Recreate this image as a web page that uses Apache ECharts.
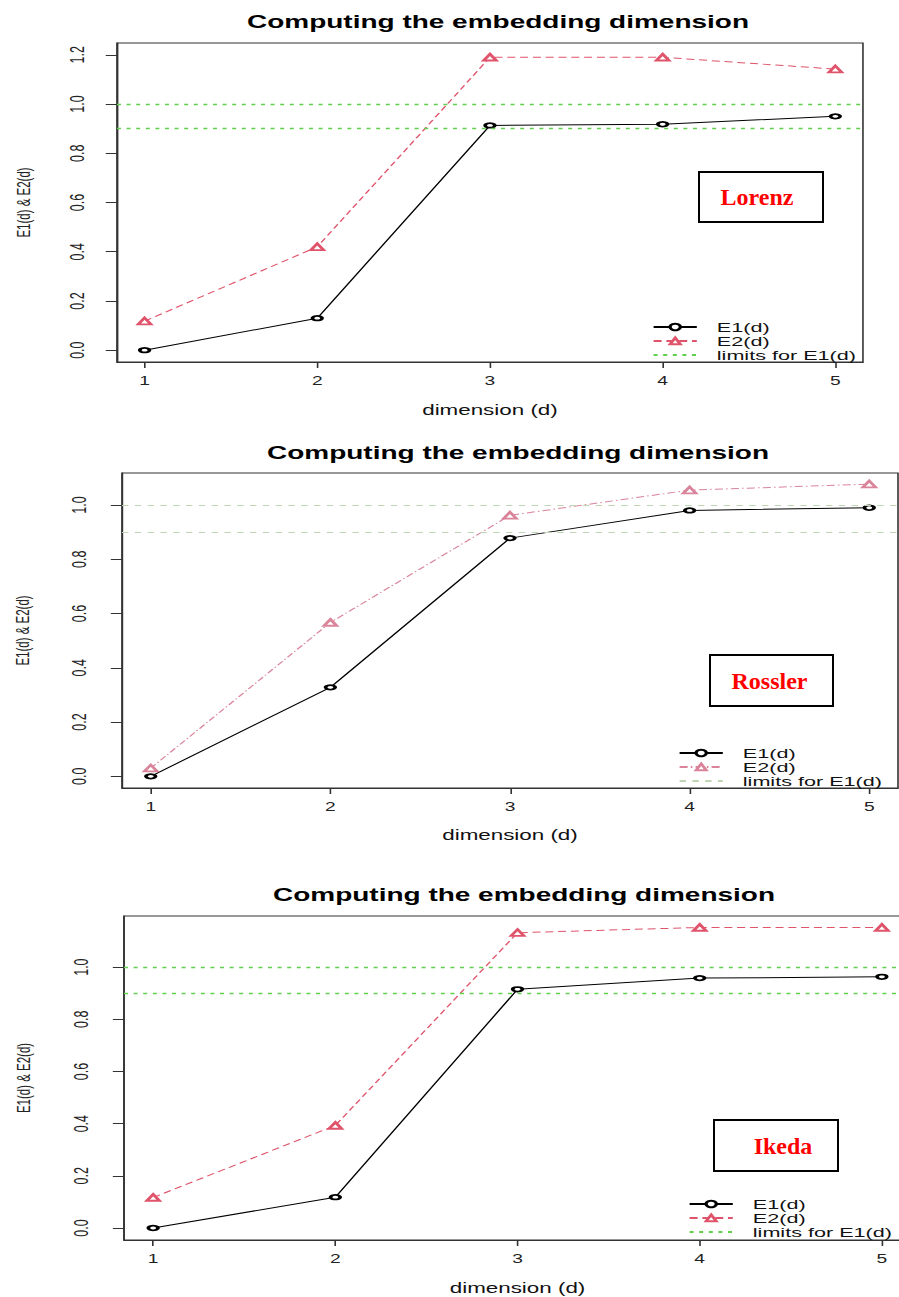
<!DOCTYPE html>
<html>
<head>
<meta charset="utf-8">
<script src="https://cdn.jsdelivr.net/npm/echarts@6/dist/echarts.min.js"></script>
<style>
body{margin:0;background:#fff;}
/* the source figure is stretched sideways, so each panel is drawn narrow and widened */
.panel{position:absolute;left:0;width:561.875px;transform:scaleX(1.6);transform-origin:0 0;}
</style>
</head>
<body>
<div id="lorenz" class="panel" style="top:0;height:430px"></div>
<div id="rossler" class="panel" style="top:430px;height:440px"></div>
<div id="ikeda" class="panel" style="top:870px;height:427px"></div>
<script>
var dims = [1, 2, 3, 4, 5];
var lorenzE1 = [0.0, 0.13, 0.913, 0.918, 0.95];
var lorenzE2 = [0.118, 0.42, 1.19, 1.19, 1.142];
var rosslerE1 = [0.0, 0.328, 0.878, 0.98, 0.99];
var rosslerE2 = [0.03, 0.567, 0.962, 1.055, 1.077];
var ikedaE1 = [0.0, 0.118, 0.915, 0.958, 0.963];
var ikedaE2 = [0.117, 0.393, 1.132, 1.152, 1.152];
var limits = [0.9, 1.0];
var yTicksLorenz = [0, 0.2, 0.4, 0.6, 0.8, 1.0, 1.2];
var yTicksOther = [0, 0.2, 0.4, 0.6, 0.8, 1.0];

var STRETCH = 1.6;

function pairs(xs, ys) {
	var out = [];
	for (var i = 0; i < xs.length; i++) {
		out.push([xs[i], ys[i]]);
	}
	return out;
}

function makePanel(id, p) {
	var font = 'Liberation Sans';
	var option = {
		animation: false,
		backgroundColor: '#fff',
		title: {
			text: 'Computing the embedding dimension',
			left: p.titleX, top: p.titleTop, textAlign: 'center',
			textStyle: {fontFamily: font, fontWeight: 'bold', fontSize: 17.5, color: '#000'}
		},
		grid: {
			left: p.grid[0], top: p.grid[1], width: p.grid[2], height: p.grid[3],
			show: true, borderColor: '#333', borderWidth: 1,
			containLabel: false, outerBoundsMode: 'none'
		},
		legend: {
			orient: 'vertical', left: p.legend[0], top: p.legend[1],
			itemWidth: 27, itemHeight: 8, itemGap: 0,
			formatter: function(n) { return '  ' + n; },
			textStyle: {fontFamily: font, fontSize: 13.5, lineHeight: 13.5, color: '#111'},
			data: [
				{name: 'E1(d)'},
				{name: 'E2(d)'},
				{name: 'limits for E1(d)', itemStyle: {opacity: 0}}
			]
		},
		xAxis: {
			type: 'value', min: 0.84, max: 5.16,
			name: 'dimension (d)', nameLocation: 'middle', nameGap: p.xNameGap,
			nameTextStyle: {fontFamily: font, fontSize: 14, color: '#111'},
			axisLine: {show: true, onZero: false, lineStyle: {color: '#333', width: 1}},
			splitLine: {show: false},
			axisTick: {show: true, inside: false, customValues: dims, length: 6, lineStyle: {color: '#333'}},
			axisLabel: {customValues: dims, margin: 13, fontFamily: font, fontSize: 12, color: '#222'}
		},
		yAxis: {
			type: 'value', min: p.yMin, max: p.yMax,
			name: 'E1(d) & E2(d)', nameLocation: 'middle', nameGap: p.yNameGap, nameRotate: 90,
			nameTextStyle: {fontFamily: font, fontSize: 11.5, color: '#222'},
			axisLine: {show: true, onZero: false, lineStyle: {color: '#333', width: 1}},
			splitLine: {show: false},
			axisTick: {show: true, inside: false, customValues: p.yTicks, length: 7, lineStyle: {color: '#333'}},
			axisLabel: {
				customValues: p.yTicks, rotate: 90, margin: p.yLabelMargin,
				fontFamily: font, fontSize: 12.5, color: '#222',
				formatter: function(v) { return v.toFixed(1); }
			}
		},
		series: [{
			name: 'E1(d)', type: 'line',
			data: pairs(dims, p.e1),
			symbol: 'emptyCircle', symbolSize: [6, 4.5],
			lineStyle: {color: '#000', width: 1},
			itemStyle: {color: '#000', borderWidth: 0.7}
		}, {
			name: 'E2(d)', type: 'line',
			data: pairs(dims, p.e2),
			symbol: 'emptyTriangle', symbolSize: [8, 6.5],
			lineStyle: {color: p.e2Color, width: 1, type: p.e2Dash},
			itemStyle: {color: p.e2Color, borderWidth: 0.7}
		}, {
			name: 'limits for E1(d)', type: 'line',
			data: [],
			symbol: 'none',
			lineStyle: {color: p.limColor, width: p.limWidth, type: p.limDash},
			itemStyle: {color: p.limColor},
			markLine: {
				silent: true, symbol: ['none', 'none'],
				label: {show: false},
				lineStyle: {color: p.limColor, width: p.limWidth, type: p.limDash},
				data: limits.map(function(v) { return {yAxis: v}; })
			}
		}],
		graphic: [{
			// the name box was pasted on unstretched, so undo the panel stretch here
			type: 'group', x: p.box[0] / STRETCH, y: p.box[1], scaleX: 1 / STRETCH,
			children: [{
				type: 'rect',
				shape: {x: 0, y: 0, width: p.box[2], height: p.box[3]},
				style: {fill: '#fff', stroke: '#000', lineWidth: 2}
			}, {
				type: 'text',
				x: p.box[2] / 2 + p.labelDx, y: p.box[3] / 2,
				style: {
					text: p.label, fill: '#f00', align: 'center', verticalAlign: 'middle',
					font: 'bold 24px "Liberation Serif"'
				}
			}]
		}]
	};
	echarts.init(document.getElementById(id), null, {renderer: 'svg'}).setOption(option);
}

makePanel('lorenz', {
	e1: lorenzE1, e2: lorenzE2, yTicks: yTicksLorenz,
	yMin: -0.048, yMax: 1.248,
	grid: [73.1, 43, 466.25, 319],
	titleX: 306.25, titleTop: 7.5,
	legend: [402.5, 315],
	xNameGap: 41, yNameGap: 52.7, yLabelMargin: 18,
	e2Color: '#DF536B', e2Dash: [5, 3],
	limColor: '#61D04F', limDash: [2.5, 3.5], limWidth: 1.4,
	box: [699, 172, 124, 50], label: 'Lorenz', labelDx: -4
});

makePanel('rossler', {
	e1: rosslerE1, e2: rosslerE2, yTicks: yTicksOther,
	yMin: -0.043, yMax: 1.118,
	grid: [76.25, 43, 485, 315],
	titleX: 318.75, titleTop: 8.5,
	legend: [418.75, 311],
	xNameGap: 40, yNameGap: 56, yLabelMargin: 20,
	e2Color: '#D9849A', e2Dash: [5, 2, 1, 2],
	limColor: '#BFD6B4', limDash: [4, 4], limWidth: 1,
	box: [710, 225, 123, 51], label: 'Rossler', labelDx: -2
});

makePanel('ikeda', {
	e1: ikedaE1, e2: ikedaE2, yTicks: yTicksOther,
	yMin: -0.046, yMax: 1.196,
	grid: [77.5, 46, 491.9, 324],
	titleX: 322.5, titleTop: 10.5,
	legend: [425, 322],
	xNameGap: 41, yNameGap: 57, yLabelMargin: 20,
	e2Color: '#DF536B', e2Dash: [5, 3],
	limColor: '#61D04F', limDash: [2.5, 3.5], limWidth: 1.4,
	box: [714, 250, 124, 51], label: 'Ikeda', labelDx: 7
});
</script>
</body>
</html>
